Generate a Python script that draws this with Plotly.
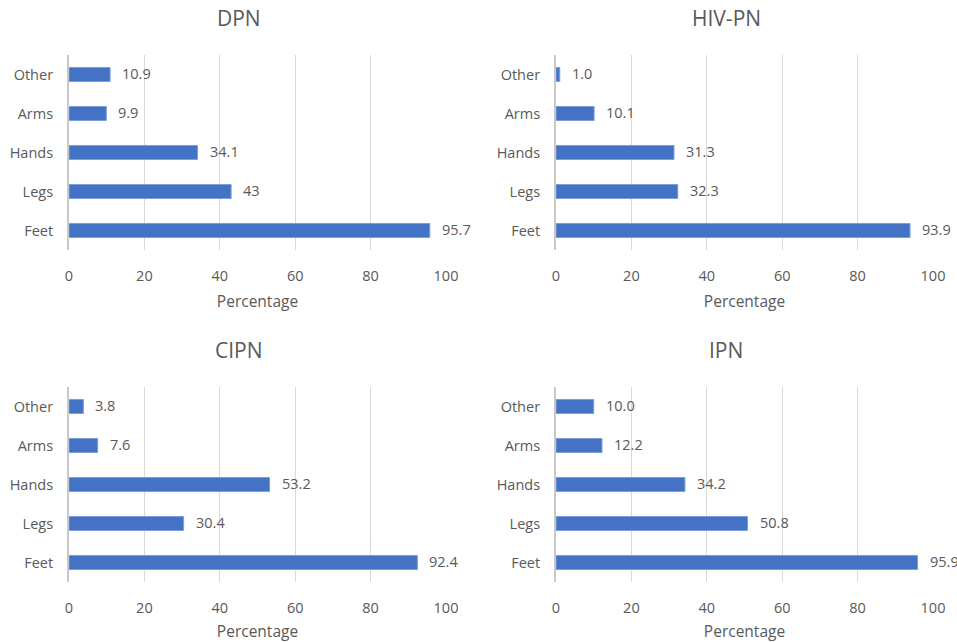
import plotly.graph_objects as go

# Body regions affected, percentage of patients per neuropathy type
regions = ["Feet", "Legs", "Hands", "Arms", "Other"]
dpn = [95.7, 43, 34.1, 9.9, 10.9]
hiv_pn = [93.9, 32.3, 31.3, 10.1, 1.0]
cipn = [92.4, 30.4, 53.2, 7.6, 3.8]
ipn = [95.9, 50.8, 34.2, 12.2, 10.0]

dpn_labels = ["95.7", "43", "34.1", "9.9", "10.9"]
hiv_pn_labels = ["93.9", "32.3", "31.3", "10.1", "1.0"]
cipn_labels = ["92.4", "30.4", "53.2", "7.6", "3.8"]
ipn_labels = ["95.9", "50.8", "34.2", "12.2", "10.0"]

titles = ["DPN", "HIV-PN", "CIPN", "IPN"]
x_ticks = [0, 20, 40, 60, 80, 100]

BAR = "#4472C4"
TEXT = "#595959"
GRID = "#D9D9D9"
FONT = "Open Sans"

W, H = 957, 642
# panel geometry in pixels: (x0, x1, y_top, y_bottom, title_x, title_y)
panels = [
    (69, 446, 55, 250, 239, 18),
    (556, 933, 55, 250, 726, 18),
    (69, 446, 387, 582, 239, 350),
    (556, 933, 387, 582, 726, 350),
]
series = [(dpn, dpn_labels), (hiv_pn, hiv_pn_labels), (cipn, cipn_labels), (ipn, ipn_labels)]

fig = go.Figure()
layout = dict(
    width=W, height=H,
    margin=dict(l=0, r=0, t=0, b=0, autoexpand=False),
    paper_bgcolor="white", plot_bgcolor="white",
    showlegend=False,
    font=dict(family=FONT, color=TEXT, size=13),
    annotations=[],
)

for i, ((vals, labs), (x0, x1, yt, yb, tx, ty), title) in enumerate(zip(series, panels, titles)):
    n = "" if i == 0 else str(i + 1)
    xa, ya = "x" + n, "y" + n
    fig.add_trace(go.Bar(
        x=vals, y=regions, orientation="h", width=0.36,
        marker=dict(color=BAR, line=dict(color="#7C9ED8", width=1)),
        xaxis=xa, yaxis=ya, hoverinfo="x+y",
    ))
    layout["xaxis" + n] = dict(
        domain=[x0 / W, x1 / W], range=[0, 100], anchor=ya, automargin=False,
        tickvals=x_ticks, showgrid=True, gridcolor=GRID, gridwidth=1,
        zeroline=False, showline=False, ticks="",
        tickfont=dict(size=14.5, color=TEXT), ticklabelstandoff=15,
        title=dict(text="Percentage", font=dict(size=15.5, color=TEXT), standoff=12),
        fixedrange=True,
    )
    layout["yaxis" + n] = dict(
        domain=[1 - yb / H, 1 - yt / H], range=[-0.5, 4.5], anchor=xa, automargin=False,
        type="category", categoryorder="array", categoryarray=regions,
        showgrid=False, zeroline=False, showline=True, linecolor="#C8C8C8", linewidth=2,
        ticks="", tickfont=dict(size=14.5, color=TEXT), ticklabelstandoff=11,
        fixedrange=True,
    )
    for v, lab, r in zip(vals, labs, regions):
        layout["annotations"].append(dict(
            x=v, y=r, xref=xa, yref=ya, text=lab, showarrow=False,
            xanchor="left", yanchor="middle", xshift=10, yshift=1,
            font=dict(size=14.5, color=TEXT),
        ))
    layout["annotations"].append(dict(
        x=tx / W, y=1 - ty / H, xref="paper", yref="paper", text=title,
        showarrow=False, xanchor="center", yanchor="middle",
        font=dict(size=21, color=TEXT),
    ))

fig.update_layout(**layout)
fig.write_html("out.html")
